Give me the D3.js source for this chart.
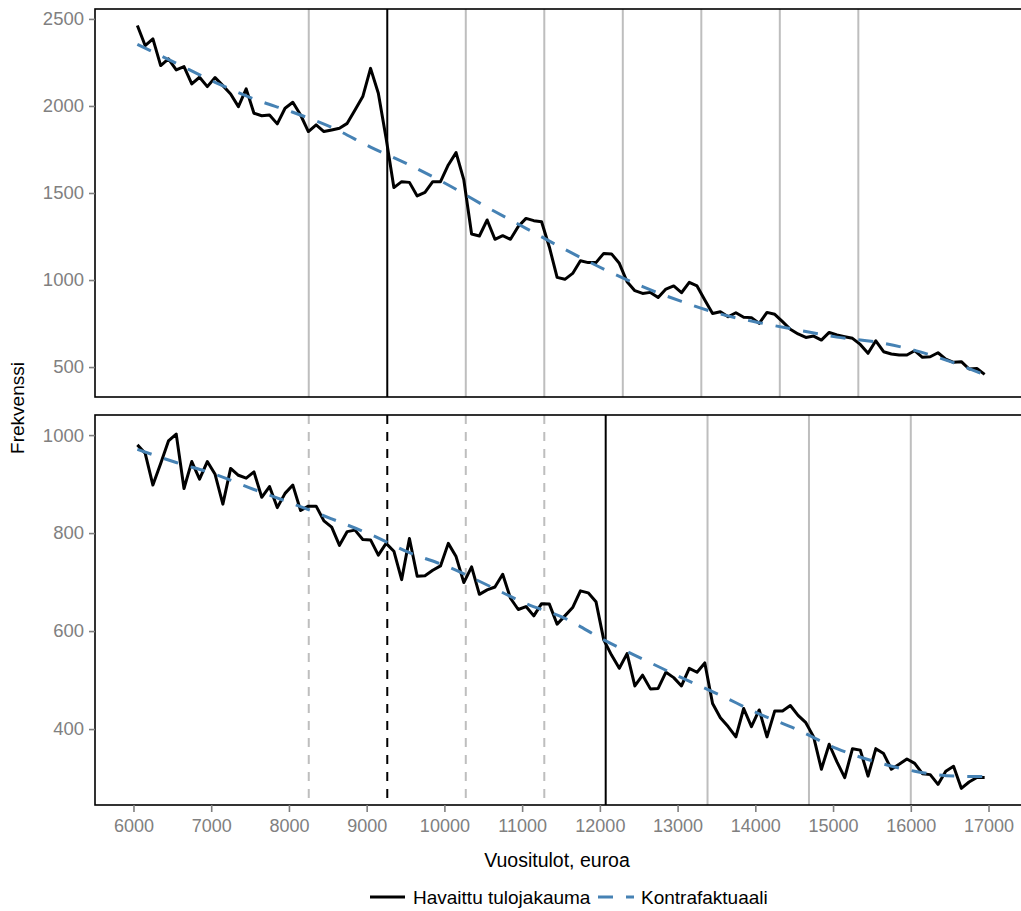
<!DOCTYPE html>
<html><head><meta charset="utf-8">
<script src="https://cdn.jsdelivr.net/npm/d3@7"></script>
<style>body{margin:0;background:#fff} svg{display:block}</style>
</head><body><svg id="c" width="1021" height="911"></svg>
<script>
// income bins (bin centres, 100 € wide)
const incomeBins = d3.range(6050, 17000, 100);
const observedTop = [2462,2347,2385,2232,2270,2207,2226,2127,2165,2111,
  2163,2117,2069,1996,2098,1958,1944,1948,1897,1987,
  2021,1948,1853,1891,1853,1862,1872,1900,1977,2054,
  2216,2073,1814,1531,1565,1561,1483,1504,1565,1565,
  1661,1732,1575,1264,1253,1345,1234,1255,1234,1307,
  1354,1341,1335,1190,1015,1004,1038,1111,1100,1100,
  1153,1150,1096,990,939,923,929,900,948,966,
  927,987,966,885,808,818,789,812,786,784,
  751,814,803,761,717,690,670,678,655,699,
  684,674,665,630,579,651,588,575,569,569,
  594,556,559,582,546,527,531,489,492,458];
const observedBottom = [980,963,898,942,988,1002,891,946,910,946,
  920,859,932,918,912,925,873,895,852,881,
  898,846,855,855,825,812,775,803,806,787,
  786,755,779,763,705,789,712,713,724,733,
  779,752,699,731,675,684,690,716,667,644,
  650,631,656,655,614,631,648,682,678,660,
  582,551,524,554,488,510,482,483,516,505,
  488,524,516,535,452,423,405,384,442,405,
  439,384,437,437,448,428,413,384,318,369,
  333,301,360,357,304,360,350,318,328,339,
  330,309,307,287,314,324,279,292,301,301];
// counterfactual read at every 5th bin (and the last bin)
const counterIdx = [0,5,10,15,20,25,30,35,40,45,50,55,60,65,70,75,80,85,90,95,100,105,109];
const counterTop = [2354,2245,2136,2040,1964,1877,1764,1661,1546,1418,1297,1176,1063,962,877,805,755,713,672,644,596,525,455];
const counterBottom = [971,944,920,889,860,829,797,760,731,694,656,626,582,543,505,469,431,398,360,333,314,304,303];
const xTicks = [6000,7000,8000,9000,10000,11000,12000,13000,14000,15000,16000,17000];
const yTicksTop = [500,1000,1500,2000,2500];
const yTicksBottom = [400,600,800,1000];
const vlinesTop = [
  {x:8255,c:"grey",d:false},{x:9265,c:"black",d:false},{x:10275,c:"grey",d:false},
  {x:11285,c:"grey",d:false},{x:12295,c:"grey",d:false},{x:13305,c:"grey",d:false},
  {x:14315,c:"grey",d:false},{x:15325,c:"grey",d:false}];
const vlinesBottom = [
  {x:8255,c:"grey",d:true},{x:9265,c:"black",d:true},{x:10275,c:"grey",d:true},
  {x:11285,c:"grey",d:true},{x:12075,c:"black",d:false},{x:13385,c:"grey",d:false},
  {x:14690,c:"grey",d:false},{x:16000,c:"grey",d:false}];
const legendLabels = ["Havaittu tulojakauma","Kontrafaktuaali"];

const svg = d3.select("#c");
const FONT = "Liberation Sans, Arial, Helvetica, sans-serif";
const L = 95, R = 1027;
const x = d3.scaleLinear().domain([5505,17495]).range([L,R]);

const panels = [
  {top:9, bottom:397, domain:[328,2557], obs:observedTop, cf:counterTop, ticks:yTicksTop, vl:vlinesTop},
  {top:415, bottom:805, domain:[245,1041], obs:observedBottom, cf:counterBottom, ticks:yTicksBottom, vl:vlinesBottom}
];

panels.forEach((p,pi) => {
  const y = d3.scaleLinear().domain(p.domain).range([p.bottom,p.top]);
  const g = svg.append("g");
  const clipId = "clip"+pi;
  svg.append("clipPath").attr("id",clipId).append("rect")
    .attr("x",L).attr("y",p.top).attr("width",R-L).attr("height",p.bottom-p.top);
  const inner = g.append("g").attr("clip-path",`url(#${clipId})`);
  inner.selectAll("line.v").data(p.vl).enter().append("line")
    .attr("x1",d=>x(d.x)).attr("x2",d=>x(d.x))
    .attr("y1",p.top).attr("y2",p.bottom)
    .attr("stroke",d=>d.c==="grey"?"#bebebe":"#000")
    .attr("stroke-width",2)
    .attr("stroke-dasharray",d=>d.d?"9,8":null);
  const line = d3.line().x((d,i)=>x(incomeBins[i])).y(d=>y(d));
  inner.append("path").datum(p.obs).attr("d",line)
    .attr("fill","none").attr("stroke","#000").attr("stroke-width",3)
    .attr("stroke-linejoin","round");
  const cfLine = d3.line().x((d,i)=>x(incomeBins[counterIdx[i]])).y(d=>y(d)).curve(d3.curveMonotoneX);
  inner.append("path").datum(p.cf).attr("d",cfLine)
    .attr("fill","none").attr("stroke","#4682b4").attr("stroke-width",3)
    .attr("stroke-dasharray","15,13");
  // frame
  g.append("rect").attr("x",L).attr("y",p.top).attr("width",R-L+5).attr("height",p.bottom-p.top)
    .attr("fill","none").attr("stroke","#000").attr("stroke-width",1.6);
  // y axis
  const ya = g.append("g").attr("transform",`translate(${L},0)`)
    .call(d3.axisLeft(y).tickValues(p.ticks).tickSize(6).tickPadding(5).tickFormat(d3.format("d")));
  ya.select(".domain").remove();
  ya.selectAll(".tick line").attr("stroke","#7f7f7f").attr("stroke-width",1.6);
  ya.selectAll(".tick text").attr("fill","#808080").style("font-family",FONT).style("font-size","18.5px");
});

// x axis
const xa = svg.append("g").attr("transform",`translate(0,805)`)
  .call(d3.axisBottom(x).tickValues(xTicks).tickSize(7).tickPadding(7).tickFormat(d3.format("d")));
xa.select(".domain").remove();
xa.selectAll(".tick line").attr("stroke","#7f7f7f").attr("stroke-width",1.6);
xa.selectAll(".tick text").attr("fill","#808080").style("font-family",FONT).style("font-size","18px");

svg.append("text").attr("x",557).attr("y",867).attr("text-anchor","middle")
  .style("font-family",FONT).style("font-size","19.5px").attr("fill","#000").text("Vuositulot, euroa");
svg.append("text").attr("transform","translate(24,408) rotate(-90)").attr("text-anchor","middle")
  .style("font-family",FONT).style("font-size","19px").attr("fill","#000").text("Frekvenssi");

// legend
const lg = svg.append("g");
lg.append("line").attr("x1",370).attr("x2",405).attr("y1",897).attr("y2",897)
  .attr("stroke","#000").attr("stroke-width",3);
lg.append("text").attr("x",413).attr("y",903.5).style("font-family",FONT).style("font-size","19px")
  .text(legendLabels[0]);
lg.append("line").attr("x1",598).attr("x2",634).attr("y1",897).attr("y2",897)
  .attr("stroke","#4682b4").attr("stroke-width",3).attr("stroke-dasharray","15,13");
lg.append("text").attr("x",641).attr("y",903.5).style("font-family",FONT).style("font-size","19px")
  .text(legendLabels[1]);
</script></body></html>
